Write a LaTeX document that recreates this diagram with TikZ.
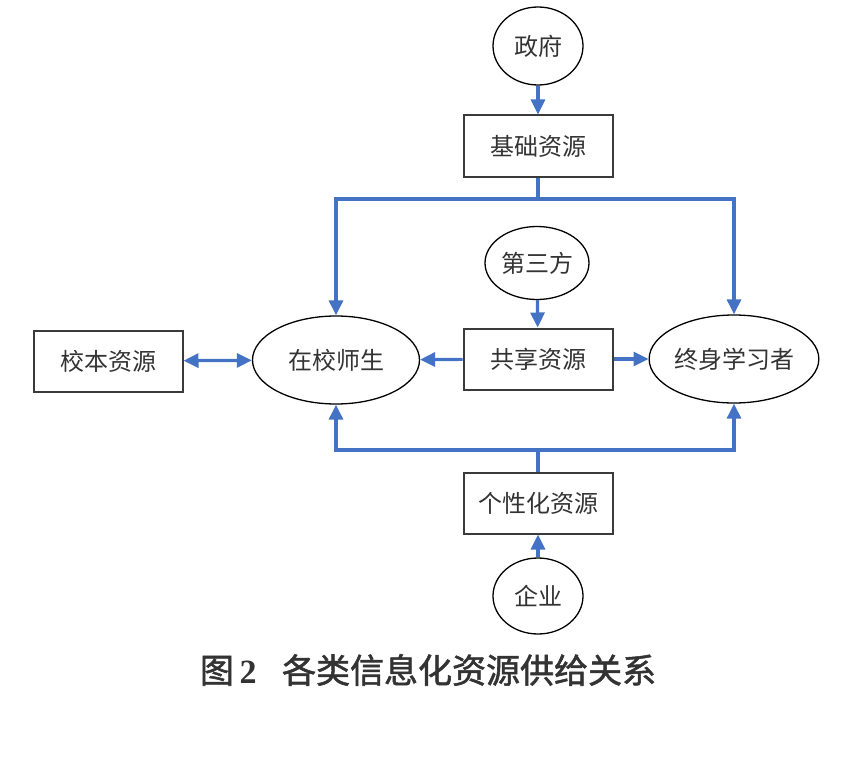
\documentclass[tikz,border=0pt]{standalone}
\usepackage{fontspec}
\setmainfont{Noto Sans CJK SC}
\newfontfamily\numfont{Liberation Serif}
\newfontfamily\capfont[FakeBold=1.6]{Noto Sans CJK SC}
\usepackage{xcolor}
\definecolor{flowBlue}{HTML}{4472C4}
\definecolor{boxLine} {HTML}{3A3A3A}
\definecolor{textGray}{HTML}{333333}
\usetikzlibrary{arrows.meta, positioning, shapes.geometric}
\tikzset{
    resbox/.style={rectangle, draw=boxLine, line width=2pt, minimum width=149pt,
                   minimum height=61pt, inner sep=0pt, text=textGray,
                   font=\fontsize{24}{24}\selectfont},
    actor/.style={ellipse, draw, line width=1.3pt, inner sep=0pt, text=textGray,
                  font=\fontsize{24}{24}\selectfont},
    flow/.style={-{Triangle[width=14pt,length=15pt]}, line width=3.2pt, flowBlue},
    bflow/.style={{Triangle[width=14pt,length=15pt]}-{Triangle[width=14pt,length=15pt]},
                  line width=3.2pt, flowBlue},
}

\begin{document}
\begin{tikzpicture}[x=1pt, y=-1pt]
    \useasboundingbox (0,0) rectangle (867,757);
    % providers and resources (centre column)
    \node[actor, minimum width=90pt, minimum height=78pt] (gov) at (538,46) {政府};
    \node[resbox] (basic) at (538,146) {基础资源};
    \node[actor, minimum width=104pt, minimum height=73pt] (third) at (537,263) {第三方};
    \node[resbox] (shared) at (538,359) {共享资源};
    \node[resbox] (personal) at (538,503) {个性化资源};
    \node[actor, minimum width=90pt, minimum height=76pt] (firm) at (538,596) {企业};
    % users
    \node[resbox] (school) at (108,361) {校本资源};
    \node[actor, minimum width=167pt, minimum height=88pt] (students) at (336,360) {在校师生};
    \node[actor, minimum width=166pt, minimum height=88pt] (learners) at (734,359) {终身学习者};
    \coordinate (topbus) at (538,199);
    \coordinate (botbus) at (538,450);
    % supply lines
    \draw[flow] (gov) -- (basic);
    \draw[flow] (basic.south) -- (topbus) -| (students.north);
    \draw[flow] (topbus) -| (learners.north);
    \draw[flow] (third) -- (shared);
    \draw[flow] (shared) -- (students);
    \draw[flow] (shared) -- (learners);
    \draw[bflow] (school) -- (students);
    \draw[flow] (firm) -- (personal);
    \draw[flow] (personal.north) -- (botbus) -| (students.south);
    \draw[flow] (botbus) -| (learners.south);
    % caption
    \node[font=\fontsize{34}{34}\selectfont, text=textGray] (caption) at (428,670)
        {\capfont 图\,{\numfont\bfseries 2}\hspace{0.75em}各类信息化资源供给关系};
\end{tikzpicture}
\end{document}
